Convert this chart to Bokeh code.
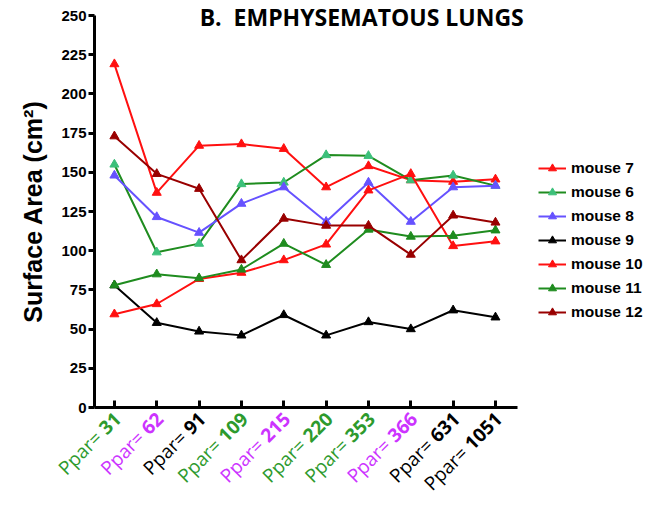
import numpy as np
from bokeh.plotting import figure
from bokeh.models import Range1d, FixedTicker, Legend, LegendItem, ColumnDataSource
from bokeh.core.properties import value
from bokeh.embed import file_html
from bokeh.resources import INLINE

# ---- data ----
ppar = ["31", "62", "91", "109", "215", "220", "353", "366", "631", "1051"]
label_colors = ["#2d9a2d", "#cc33ff", "#000000", "#2d9a2d", "#cc33ff",
                "#2d9a2d", "#2d9a2d", "#cc33ff", "#000000", "#000000"]
mouse7 = [219, 137, 167, 168, 165, 140.5, 154, 145, 144, 145.5]
mouse6 = [155, 99, 104.5, 142.5, 143.5, 161, 160.5, 145, 148, 141.5]
mouse8 = [148, 121.5, 111.5, 130, 140.5, 118.5, 143.5, 118.5, 140.5, 141.5]
mouse9 = [78, 54, 48.5, 46, 59, 46, 54.5, 50, 62, 57.5]
mouse10 = [59.5, 66, 82, 86, 94, 104, 138.5, 149, 103, 106]
mouse11 = [78, 85, 82.5, 88, 104.5, 91, 113.5, 109, 109.5, 113]
mouse12 = [173, 149, 139.5, 94, 120.5, 116, 116, 97.5, 122.5, 118]
y_ticks = [0, 25, 50, 75, 100, 125, 150, 175, 200, 225, 250]
title_text = "B.\u00a0 EMPHYSEMATOUS LUNGS"

series = [
    ("mouse 7", mouse7, "#ff1010", "#ff1010"),
    ("mouse 6", mouse6, "#1f8c1f", "#3cc07a"),
    ("mouse 8", mouse8, "#6652ff", "#6652ff"),
    ("mouse 9", mouse9, "#000000", "#000000"),
    ("mouse 10", mouse10, "#ff1010", "#ff1010"),
    ("mouse 11", mouse11, "#1f8c1f", "#1f8c1f"),
    ("mouse 12", mouse12, "#990000", "#990000"),
]

xs = list(range(len(ppar)))

p = figure(frame_width=423, frame_height=392,
           x_range=Range1d(-0.47, 9.52), y_range=Range1d(0, 250),
           output_backend="svg", toolbar_location=None,
           min_border_left=94, min_border_top=15, min_border_right=135,
           min_border_bottom=102)
p.outline_line_color = None
p.grid.visible = False
p.background_fill_color = "white"

items = []
for name, vals, lc, mc in series:
    lr = p.line(xs, vals, line_color=lc, line_width=2)
    sr = p.scatter(xs, vals, marker="triangle", size=9, fill_color=mc, line_color=mc)
    items.append(LegendItem(label=name, renderers=[lr, sr]))

# axes
p.yaxis.ticker = FixedTicker(ticks=y_ticks)
p.yaxis.axis_label = "Surface Area (cm²)"
p.yaxis.axis_label_text_font = "Liberation Sans"
p.yaxis.axis_label_text_font_style = "bold"
p.yaxis.axis_label_text_font_size = "25px"
p.yaxis.axis_label_text_color = "black"
p.yaxis.axis_label_standoff = 11
p.yaxis.major_label_text_font = "Liberation Sans"
p.yaxis.major_label_text_font_style = "bold"
p.yaxis.major_label_text_font_size = "15px"
p.yaxis.major_label_text_color = "black"
p.yaxis.major_label_standoff = 2
p.yaxis.axis_line_width = 3
p.yaxis.major_tick_line_width = 3
p.yaxis.major_tick_out = 6
p.yaxis.major_tick_in = 0
p.yaxis.minor_tick_line_color = None

p.xaxis.ticker = FixedTicker(ticks=xs)
p.xaxis.major_label_text_font_size = "0px"
p.xaxis.axis_line_width = 3
p.xaxis.major_tick_line_width = 3
p.xaxis.major_tick_in = 7
p.xaxis.major_tick_out = 0
p.xaxis.minor_tick_line_color = None

# rotated category labels: "Ppar=" regular + bold number
fs = 19
digit_w = 0.572 * fs
gap = 5
c = 0.7071
num_w = [len(s) * digit_w for s in ppar]
ax, ay = 3, 8
src = ColumnDataSource(dict(
    x=xs, y=[0] * len(xs), num=ppar, pre=["Ppar="] * len(xs), color=label_colors,
    xo_num=[ax] * len(xs), yo_num=[ay] * len(xs),
    xo_pre=[ax - (w + gap) * c for w in num_w],
    yo_pre=[ay + (w + gap) * c for w in num_w],
))
r1 = p.text(x="x", y="y", text="num", source=src, angle=np.pi / 4,
            x_offset="xo_num", y_offset="yo_num", text_align="right",
            text_baseline="alphabetic", text_font=value("Open Sans"),
            text_font_style="bold", text_font_size=f"{fs}px", text_color="color")
r2 = p.text(x="x", y="y", text="pre", source=src, angle=np.pi / 4,
            x_offset="xo_pre", y_offset="yo_pre", text_align="right",
            text_baseline="alphabetic", text_font=value("Open Sans"),
            text_font_style="normal", text_font_size=f"{fs}px", text_color="color")
r1.level = "annotation"
r2.level = "annotation"

# title as an unclipped text glyph near the top of the frame
rt = p.text(x=[5.84], y=[250], text=[title_text], y_offset=1,
            text_align="center", text_baseline="alphabetic",
            text_font=value("Open Sans"), text_font_style="bold",
            text_font_size="23px", text_color="black")
rt.level = "annotation"

legend = Legend(items=items, location=(21, 85), border_line_color=None,
                background_fill_alpha=0, label_text_font="Liberation Sans",
                label_text_font_style="bold", label_text_font_size="15.5px",
                label_text_color="black", margin=0,
                glyph_width=28, label_standoff=5, spacing=4, padding=10)
p.add_layout(legend, "right")

open("out.html", "w").write(file_html(p, INLINE))
